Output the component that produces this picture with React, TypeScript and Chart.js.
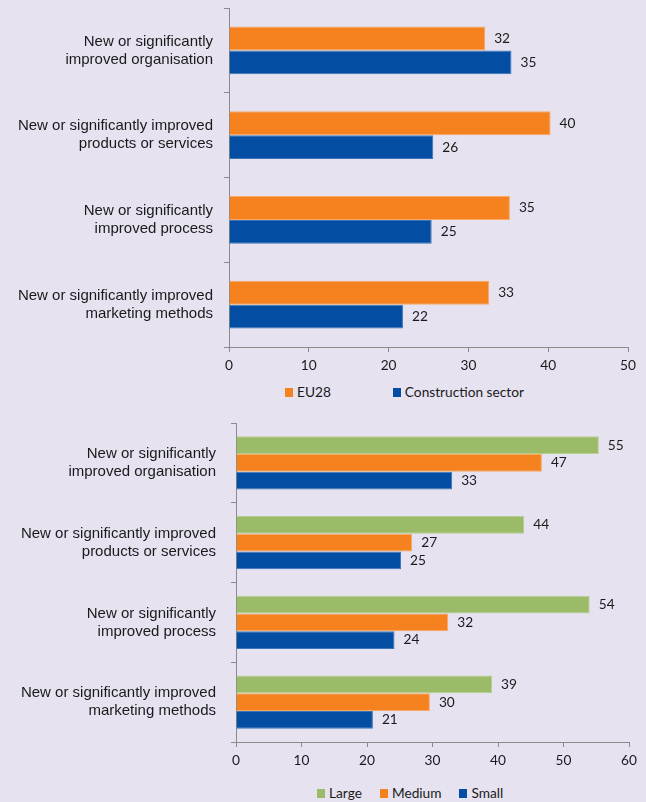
import React, { useEffect, useRef } from 'react';
import { Chart, registerables } from 'chart.js';

Chart.register(...registerables);

// categories shared by both charts
const categories = [
    ['New or significantly', 'improved organisation'],
    ['New or significantly improved', 'products or services'],
    ['New or significantly', 'improved process'],
    ['New or significantly improved', 'marketing methods'],
];

// top chart: EU28 vs construction sector (%)
const eu28 = [32.1, 40.3, 35.2, 32.6];
const construction = [35.4, 25.6, 25.4, 21.8];

// bottom chart: by enterprise size (%)
const large = [55.4, 44.0, 54.0, 39.1];
const medium = [46.7, 26.9, 32.4, 29.6];
const small = [33.0, 25.2, 24.2, 20.9];

const topAxisMax = 50;
const bottomAxisMax = 60;
const tickStep = 10;

const BG = '#e6e2f0';
const TEXT = '#1a1a1a';
const AXIS = '#8a8a8a';
const ORANGE = '#f5821f';
const BLUE = '#034ea2';
const GREEN = '#9bbb69';
const SMALL_FONT = 13.7;

const valueLabels = {
    id: 'valueLabels',
    afterDatasetsDraw(chart: Chart) {
        const ctx = chart.ctx;
        ctx.save();
        ctx.font = `${SMALL_FONT}px Lato`;
        ctx.fillStyle = TEXT;
        ctx.textAlign = 'left';
        ctx.textBaseline = 'middle';
        chart.data.datasets.forEach((ds, i) => {
            chart.getDatasetMeta(i).data.forEach((bar: any, j) => {
                const v = ds.data[j] as number;
                ctx.fillText(String(Math.round(v)), bar.x + 9, bar.y);
            });
        });
        ctx.restore();
    }
};

interface Series {
    label: string;
    data: number[];
    color: string;
    border: string;
}

interface BarChartProps {
    series: Series[];
    max: number;
    top: number;
    height: number;
    areaLeft: number;
    areaTop: number;
    areaBottom: number;
    areaRight: number;
    labelPad: number;
    groupPercent: number;
}

const BarChart: React.FC<BarChartProps> = ({ series, max, top, height, areaLeft, areaTop, areaBottom, areaRight, labelPad, groupPercent }) => {
    const chartRef = useRef<HTMLCanvasElement | null>(null);

    useEffect(() => {
        if (!chartRef.current) return;
        const chart = new Chart(chartRef.current, {
            type: 'bar',
            data: {
                labels: categories,
                datasets: series.map(s => ({
                    label: s.label,
                    data: s.data,
                    backgroundColor: s.color,
                    borderColor: s.border,
                    borderWidth: 1,
                    borderSkipped: 'left',
                    categoryPercentage: groupPercent,
                    barPercentage: 1,
                }))
            },
            options: {
                indexAxis: 'y',
                responsive: false,
                animation: false,
                events: [],
                layout: { padding: { top: areaTop, right: 646 - areaRight, left: 0, bottom: 0 } },
                scales: {
                    x: {
                        min: 0,
                        max: max,
                        afterFit: (scale: any) => { scale.height = height - areaBottom; },
                        ticks: { stepSize: tickStep, color: TEXT, font: { family: 'Lato', size: SMALL_FONT }, padding: 5 },
                        grid: { drawOnChartArea: false, drawTicks: true, tickLength: 5, color: AXIS },
                        border: { display: true, color: AXIS },
                    },
                    y: {
                        afterFit: (scale: any) => {
                            scale.width = areaLeft;
                            scale.paddingTop = 0;
                            scale.paddingBottom = 0;
                        },
                        ticks: { color: TEXT, font: { family: 'Liberation Sans', size: 15, lineHeight: 1.2 }, padding: labelPad },
                        grid: { drawOnChartArea: false, drawTicks: true, tickLength: 5, color: AXIS, offset: true },
                        border: { display: true, color: AXIS },
                    }
                },
                plugins: {
                    legend: { display: false },
                    tooltip: { enabled: false },
                }
            },
            plugins: [valueLabels]
        });

        return () => {
            chart.destroy();
        };
    }, [series, max]);

    return (
        <canvas ref={chartRef} width={646} height={height}
            style={{ position: 'absolute', left: 0, top: top, width: 646, height: height }} />
    );
};

const Legend: React.FC<{ series: Series[]; left: number; top: number; gap: number }> = ({ series, left, top, gap }) => (
    <div style={{ position: 'absolute', left, top, display: 'flex', alignItems: 'center', fontFamily: 'Lato', fontSize: SMALL_FONT, color: TEXT, lineHeight: '16px' }}>
        {series.map(s => (
            <div key={s.label} style={{ display: 'flex', alignItems: 'center', marginRight: gap }}>
                <span style={{ display: 'inline-block', width: 8, height: 9, background: s.color, marginRight: 4 }} />
                <span>{s.label}</span>
            </div>
        ))}
    </div>
);

const topSeries: Series[] = [
    { label: 'EU28', data: eu28, color: ORANGE, border: '#f8a862' },
    { label: 'Construction sector', data: construction, color: BLUE, border: '#3a74b8' },
];

const bottomSeries: Series[] = [
    { label: 'Large', data: large, color: GREEN, border: '#b6cf90' },
    { label: 'Medium', data: medium, color: ORANGE, border: '#f8a862' },
    { label: 'Small', data: small, color: BLUE, border: '#3a74b8' },
];

const App: React.FC = () => {
    return (
        <div style={{ position: 'fixed', left: 0, top: 0, width: 646, height: 802, background: BG, overflow: 'hidden' }}>
            <BarChart series={topSeries} max={topAxisMax} top={0} height={380}
                areaLeft={229} areaTop={8} areaBottom={347} areaRight={628} labelPad={11} groupPercent={0.566} />
            <Legend series={topSeries} left={285} top={384} gap={62} />
            <BarChart series={bottomSeries} max={bottomAxisMax} top={400} height={380}
                areaLeft={236} areaTop={23} areaBottom={342} areaRight={629} labelPad={15} groupPercent={0.665} />
            <Legend series={bottomSeries} left={317} top={785} gap={18} />
        </div>
    );
};

export default App;
